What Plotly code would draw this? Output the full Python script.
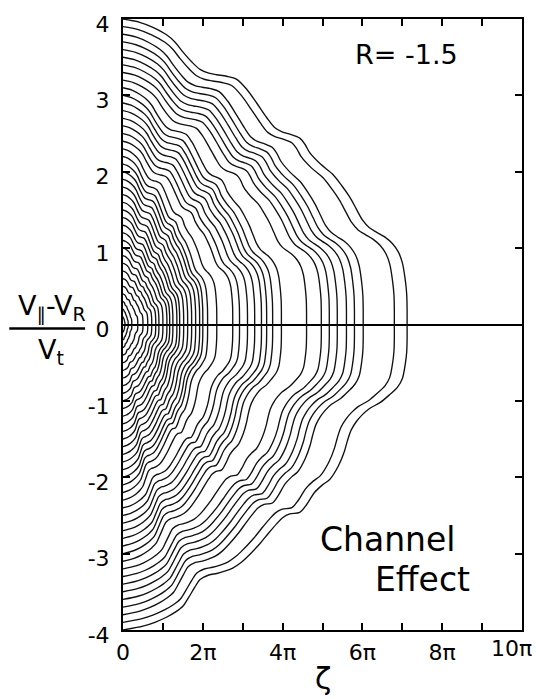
import plotly.graph_objects as go

# ---- data -----------------------------------------------------------------
# starting velocity (left axis intercept) of every trajectory, upper / lower
start_v = [0.1, 0.2, 0.3, 0.4, 0.5, 0.6, 0.7, 0.8, 0.9, 1.0,
           1.1, 1.2, 1.3, 1.4, 1.5, 1.6, 1.7, 1.8, 1.9, 2.0,
           2.1, 2.2, 2.3, 2.4, 2.5, 2.6, 2.7, 2.8, 2.9, 3.0,
           3.1, 3.2, 3.3, 3.4, 3.5, 3.6, 3.7, 3.8, 3.9, 4.0]
# zeta (in units of pi) where each trajectory crosses V = 0
cross_zeta = [0.05, 0.13, 0.22, 0.37, 0.50, 0.62, 0.72, 0.82, 0.90, 1.00,
              1.10, 1.17, 1.25, 1.35, 1.42, 1.52, 1.62, 1.72, 1.82, 1.92,
              2.00, 2.12, 2.35, 2.75, 2.92, 3.12, 3.30, 3.47, 3.60, 3.75,
              3.97, 4.60, 4.97, 5.17, 5.37, 5.60, 5.80, 6.02, 6.80, 7.12]
# traced outermost trajectory, upper half (zeta/pi, V)
outer_up_zeta = [0.0, 0.4, 0.75, 1.1, 1.3, 1.5, 1.72, 1.93, 2.15, 2.35, 2.6, 2.85, 3.1,
                 3.35, 3.6, 3.8, 4.0, 4.2, 4.43, 4.56, 4.68, 4.95, 5.25, 5.48, 5.68,
                 5.85, 6.0, 6.17, 6.35, 6.55, 6.75, 6.9, 7.0, 7.07, 7.11, 7.12, 7.12]
outer_up_v = [4.0, 3.96, 3.89, 3.79, 3.7, 3.57, 3.44, 3.34, 3.29, 3.27, 3.25, 3.21, 3.08,
              2.9, 2.71, 2.58, 2.52, 2.49, 2.44, 2.36, 2.25, 2.1, 1.97, 1.82, 1.67,
              1.51, 1.37, 1.27, 1.21, 1.15, 1.06, 0.95, 0.81, 0.6, 0.4, 0.2, 0.0]
# traced outermost trajectory, lower half (zeta/pi, V)
outer_lo_zeta = [0.0, 0.5, 0.8, 1.1, 1.3, 1.5, 1.65, 1.8, 1.93, 2.15, 2.35, 2.55, 2.75,
                 2.95, 3.1, 3.43, 3.65, 3.85, 4.0, 4.18, 4.43, 4.6, 4.8, 5.0, 5.18,
                 5.4, 5.55, 5.62, 5.72, 5.85, 6.0, 6.18, 6.45, 6.68, 6.88, 7.0, 7.08,
                 7.11, 7.12, 7.12]
outer_lo_v = [-4.0, -3.95, -3.9, -3.83, -3.77, -3.69, -3.57, -3.44, -3.34, -3.28, -3.26,
              -3.23, -3.19, -3.12, -3.05, -2.87, -2.73, -2.61, -2.53, -2.48, -2.46, -2.36,
              -2.2, -2.1, -2.03, -1.85, -1.66, -1.53, -1.38, -1.27, -1.18, -1.1, -1.02,
              -0.92, -0.82, -0.71, -0.5, -0.36, -0.2, 0.0]

x_tick_vals = [0, 1, 2, 3, 4, 5, 6, 7, 8, 9, 10]
x_tick_text = ["0", "", "2π", "", "4π", "", "6π", "", "8π", "", ""]
y_tick_vals = [-4, -3, -2, -1, 0, 1, 2, 3, 4]
y_tick_text = ["-4", "-3", "-2", "-1", "0", "1", "2", "3", "4"]

# ---- figure ---------------------------------------------------------------
fig = go.Figure()
z_ref = cross_zeta[-1]
v_ref = start_v[-1]
for v0, zc in zip(start_v, cross_zeta):
    sx = zc / z_ref
    sy = v0 / v_ref
    xs = [z * sx for z in outer_up_zeta] + [z * sx for z in reversed(outer_lo_zeta)]
    ys = [v * sy for v in outer_up_v] + [v * sy for v in reversed(outer_lo_v)]
    fig.add_trace(go.Scatter(x=xs, y=ys, mode="lines",
                             line=dict(color="#111111", width=1.35, shape="spline", smoothing=0.9),
                             hoverinfo="skip", showlegend=False))

tick_font = dict(family="DejaVu Sans", size=22, color="black")
axis_common = dict(showgrid=False, showline=True, linecolor="black", linewidth=2,
                   mirror="ticks", ticks="inside", ticklen=7, tickcolor="black", tickwidth=1.5,
                   tickfont=tick_font, ticklabeloverflow="allow")
fig.update_layout(
    width=536, height=699, paper_bgcolor="white", plot_bgcolor="white",
    margin=dict(l=123, r=13, t=14, b=69),
    xaxis=dict(range=[0, 10], tickvals=x_tick_vals, ticktext=x_tick_text, zeroline=False,
               ticklabelstandoff=2, **axis_common),
    yaxis=dict(range=[-4, 4], tickvals=y_tick_vals, ticktext=y_tick_text,
               zeroline=True, zerolinecolor="black", zerolinewidth=2,
               ticklabelstandoff=7, ticklabelshift=5, **axis_common),
)


def note(text, x, y, size, xanchor="center", yanchor="middle", **kw):
    fig.add_annotation(text=text, xref="paper", yref="paper", x=x, y=y, showarrow=False,
                       xanchor=xanchor, yanchor=yanchor,
                       font=dict(family="DejaVu Sans", size=size, color="black"), **kw)


note("10π", 1.0, 0.0, 22, xanchor="right", yanchor="top", xshift=12, yshift=-4)
note("R= -1.5", 0.71, 0.9416, 27)
note("Channel", 0.6625, 0.1477, 33)
note("Effect", 0.75, 0.0828, 33)
note("ζ", 0.5, -0.1105, 30, yanchor="bottom")
note("V<sub>∥</sub>-V<sub>R</sub>", -0.178, 0.527, 27)
note("V<sub>t</sub>", -0.18, 0.455, 27)
fig.add_shape(type="line", xref="paper", yref="paper", x0=-0.285, x1=-0.095, y0=0.4935, y1=0.4935,
              line=dict(color="black", width=2.5))
fig.write_html("out.html")
